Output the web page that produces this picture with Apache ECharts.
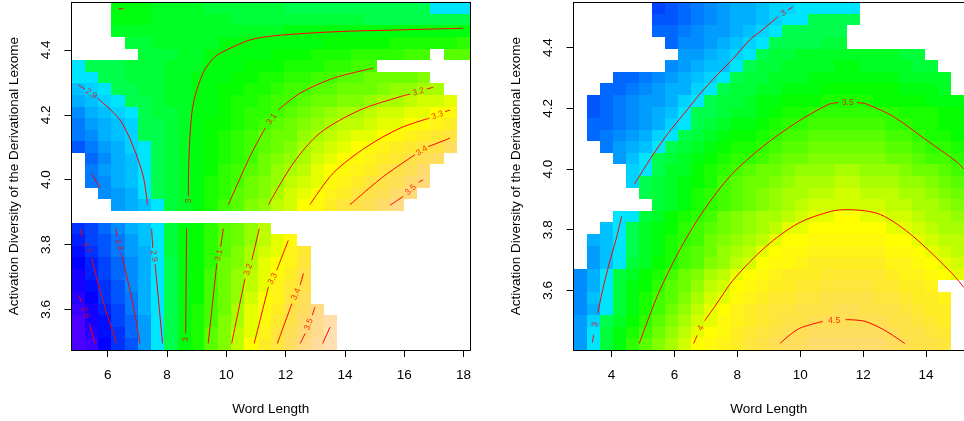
<!DOCTYPE html>
<html>
<head>
<meta charset="utf-8">
<script src="https://cdn.jsdelivr.net/npm/echarts@6/dist/echarts.min.js"></script>
<style>
  html, body { margin: 0; padding: 0; background: #fff; }
  #chart { width: 964px; height: 421px; }
</style>
</head>
<body>
<div id="chart"></div>
<script>
var _ = null;
var FONT = '"Liberation Sans", Arial, Helvetica, sans-serif';

// grid points of the two surfaces (word length / activation diversity)
var LEFT_X = [5.000, 5.448, 5.897, 6.345, 6.793, 7.241, 7.690, 8.138, 8.586, 9.034, 9.483, 9.931, 10.379, 10.828, 11.276,
  11.724, 12.172, 12.621, 13.069, 13.517, 13.966, 14.414, 14.862, 15.310, 15.759, 16.207, 16.655, 17.103, 17.552, 18.000];
var LEFT_Y = [3.493, 3.529, 3.564, 3.600, 3.636, 3.672, 3.707, 3.743, 3.779, 3.815, 3.850, 3.886, 3.922, 3.957, 3.993,
  4.029, 4.065, 4.100, 4.136, 4.172, 4.208, 4.243, 4.279, 4.315, 4.351, 4.386, 4.422, 4.458, 4.493, 4.529];
var RIGHT_X = [3.000, 3.414, 3.828, 4.241, 4.655, 5.069, 5.483, 5.897, 6.310, 6.724, 7.138, 7.552, 7.966, 8.379, 8.793,
  9.207, 9.621, 10.034, 10.448, 10.862, 11.276, 11.690, 12.103, 12.517, 12.931, 13.345, 13.759, 14.172, 14.586, 15.000];
var RIGHT_Y = [3.423, 3.461, 3.499, 3.538, 3.576, 3.614, 3.652, 3.690, 3.728, 3.767, 3.805, 3.843, 3.881, 3.919, 3.957,
  3.996, 4.034, 4.072, 4.110, 4.148, 4.186, 4.225, 4.263, 4.301, 4.339, 4.377, 4.415, 4.454, 4.492, 4.530];

var LEFT_XLIM = [4.776, 18.224], LEFT_YLIM = [3.475, 4.547], LEFT_ZLIM = [2.547, 3.625];
var RIGHT_XLIM = [2.793, 15.207], RIGHT_YLIM = [3.404, 4.549], RIGHT_ZLIM = [1.95, 5.0];

var X_TICKS_LEFT = [6, 8, 10, 12, 14, 16, 18];
var X_TICKS_RIGHT = [4, 6, 8, 10, 12, 14];
var Y_TICKS = [3.6, 3.8, 4.0, 4.2, 4.4];

// fitted values, one row per grid row from the bottom; first entry = index of first drawn column
var LEFT_ROWS = [
  [0, 2.53, 2.59, 2.65, 2.70, 2.76, 2.83, 2.92, 2.94, 3.00, 3.05, 3.11, 3.17, 3.23, 3.29, 3.35, 3.40, 3.46, 3.52, 3.58, 3.64],
  [0, 2.55, 2.60, 2.66, 2.71, 2.77, 2.84, 2.92, 2.94, 3.00, 3.05, 3.11, 3.16, 3.22, 3.28, 3.33, 3.39, 3.44, 3.50, 3.56, 3.61],
  [0, 2.56, 2.62, 2.67, 2.72, 2.78, 2.84, 2.92, 2.94, 3.00, 3.05, 3.10, 3.16, 3.21, 3.27, 3.32, 3.37, 3.43, 3.48, 3.54, 3.59],
  [0, 2.58, 2.63, 2.68, 2.73, 2.79, 2.85, 2.92, 2.94, 3.00, 3.05, 3.10, 3.15, 3.20, 3.26, 3.31, 3.36, 3.41, 3.46, 3.52],
  [0, 2.60, 2.65, 2.70, 2.75, 2.80, 2.85, 2.92, 2.95, 3.00, 3.04, 3.09, 3.14, 3.19, 3.24, 3.29, 3.34, 3.39, 3.44],
  [0, 2.62, 2.66, 2.71, 2.76, 2.81, 2.86, 2.92, 2.95, 3.00, 3.04, 3.09, 3.14, 3.19, 3.23, 3.28, 3.33, 3.38, 3.42],
  [0, 2.63, 2.68, 2.72, 2.77, 2.81, 2.86, 2.92, 2.95, 3.00, 3.04, 3.09, 3.13, 3.18, 3.22, 3.27, 3.32, 3.36, 3.41],
  [0, 2.65, 2.69, 2.74, 2.78, 2.82, 2.87, 2.92, 2.95, 3.00, 3.04, 3.08, 3.13, 3.17, 3.21, 3.26, 3.30, 3.34, 3.39],
  [0, 2.67, 2.71, 2.75, 2.79, 2.83, 2.87, 2.92, 2.96, 3.00, 3.04, 3.08, 3.12, 3.16, 3.20, 3.24, 3.28, 3.33, 3.37],
  [0, 2.68, 2.72, 2.76, 2.80, 2.84, 2.88, 2.92, 2.96, 3.00, 3.03, 3.07, 3.11, 3.15, 3.19, 3.23, 3.27, 3.31],
  [0, 2.70, 2.74, 2.77, 2.81, 2.85, 2.88, 2.92, 2.96, 3.00, 3.03, 3.07, 3.11, 3.15, 3.18, 3.22],
  [0],
  [3, 2.83, 2.86, 2.89, 2.92, 2.96, 2.99, 3.02, 3.06, 3.09, 3.12, 3.16, 3.19, 3.22, 3.25, 3.29, 3.32, 3.35, 3.39, 3.42, 3.45, 3.48, 3.52],
  [2, 2.81, 2.84, 2.87, 2.92, 2.94, 2.96, 2.99, 3.02, 3.05, 3.08, 3.11, 3.14, 3.17, 3.20, 3.24, 3.27, 3.30, 3.33, 3.36, 3.39, 3.42, 3.45, 3.48, 3.51],
  [1, 2.79, 2.82, 2.85, 2.88, 2.92, 2.94, 2.96, 2.99, 3.02, 3.05, 3.07, 3.10, 3.13, 3.16, 3.19, 3.22, 3.25, 3.28, 3.31, 3.33, 3.36, 3.39, 3.42, 3.45, 3.48, 3.51],
  [1, 2.80, 2.83, 2.86, 2.89, 2.92, 2.94, 2.96, 2.99, 3.02, 3.04, 3.07, 3.09, 3.12, 3.15, 3.18, 3.20, 3.23, 3.26, 3.29, 3.32, 3.34, 3.36, 3.39, 3.41, 3.45, 3.48],
  [1, 2.78, 2.81, 2.85, 2.89, 2.92, 2.94, 2.97, 2.99, 3.01, 3.04, 3.06, 3.08, 3.10, 3.13, 3.16, 3.19, 3.21, 3.24, 3.26, 3.29, 3.31, 3.33, 3.36, 3.38, 3.41, 3.44, 3.47],
  [0, 2.76, 2.79, 2.83, 2.86, 2.91, 2.92, 2.94, 2.97, 2.99, 3.01, 3.03, 3.05, 3.07, 3.09, 3.12, 3.14, 3.17, 3.20, 3.22, 3.24, 3.26, 3.29, 3.31, 3.33, 3.35, 3.37, 3.39, 3.42, 3.46],
  [0, 2.79, 2.82, 2.85, 2.88, 2.91, 2.94, 2.95, 2.97, 2.99, 3.01, 3.03, 3.05, 3.07, 3.09, 3.11, 3.13, 3.15, 3.18, 3.20, 3.22, 3.24, 3.26, 3.27, 3.29, 3.31, 3.33, 3.35, 3.37, 3.40],
  [0, 2.80, 2.83, 2.86, 2.89, 2.91, 2.94, 2.95, 2.97, 2.99, 3.01, 3.03, 3.04, 3.06, 3.08, 3.10, 3.12, 3.14, 3.16, 3.18, 3.20, 3.22, 3.23, 3.25, 3.27, 3.28, 3.30, 3.31, 3.34, 3.36],
  [0, 2.82, 2.85, 2.88, 2.91, 2.92, 2.94, 2.96, 2.97, 2.99, 3.01, 3.02, 3.04, 3.05, 3.07, 3.08, 3.10, 3.12, 3.14, 3.16, 3.18, 3.20, 3.21, 3.22, 3.24, 3.25, 3.27, 3.28, 3.29, 3.31],
  [0, 2.85, 2.88, 2.90, 2.92, 2.94, 2.95, 2.96, 2.98, 2.99, 3.00, 3.02, 3.03, 3.05, 3.06, 3.07, 3.09, 3.10, 3.11, 3.13, 3.14, 3.16, 3.17, 3.18, 3.20, 3.21, 3.23, 3.24, 3.25, 3.27],
  [0, 2.89, 2.91, 2.92, 2.94, 2.94, 2.96, 2.97, 2.98, 2.99, 3.00, 3.01, 3.03, 3.04, 3.05, 3.06, 3.07, 3.09, 3.10, 3.11, 3.12, 3.13, 3.14, 3.15, 3.16, 3.18, 3.19, 3.20, 3.21],
  [0, 2.92, 2.93, 2.94, 2.95, 2.96, 2.96, 2.97, 2.98, 2.99, 3.00, 3.01, 3.02, 3.03, 3.04, 3.05, 3.06, 3.07, 3.08, 3.09, 3.10, 3.11, 3.12, 3.13, 3.14, 3.14, 3.15, 3.16],
  [0, 2.93, 2.94, 2.95, 2.95, 2.96, 2.97, 2.97, 2.98, 2.99, 2.99, 3.00, 3.01, 3.02, 3.03, 3.03, 3.04, 3.05, 3.06, 3.06, 3.07, 3.08, 3.09, 3.09],
  [5, 2.96, 2.97, 2.97, 2.98, 2.99, 3.00, 3.00, 3.01, 3.02, 3.02, 3.03, 3.04, 3.04, 3.05, 3.05, 3.06, 3.07, 3.07, 3.08, 3.08, 3.09, 3.10, _, 3.11, 3.12],
  [4, 2.97, 2.97, 2.98, 2.98, 2.99, 2.99, 2.99, 3.00, 3.00, 3.00, 3.01, 3.01, 3.01, 3.02, 3.02, 3.03, 3.03, 3.03, 3.04, 3.04, 3.05, 3.05, 3.05, 3.06, 3.06, 3.07],
  [3, 2.98, 2.98, 2.98, 2.98, 2.98, 2.99, 2.99, 2.99, 2.99, 2.99, 2.99, 2.99, 2.99, 3.00, 3.00, 3.00, 3.00, 3.00, 3.00, 3.00, 3.00, 3.00, 3.00, 3.01, 3.01, 3.01, 3.01],
  [3, 3.00, 3.00, 3.00, 2.99, 2.99, 2.98, 2.98, 2.98, 2.98, 2.97, 2.97, 2.97, 2.97, 2.97, 2.96, 2.96, 2.96, 2.96, 2.96, 2.95, 2.95, 2.95, 2.95, 2.95, 2.94, 2.94, 2.94],
  [3, 3.00, 3.00, 3.00, 2.99, 2.99, 2.98, 2.98, 2.97, 2.97, 2.97, 2.96, 2.96, 2.96, 2.95, 2.95, 2.95, 2.95, 2.94, 2.94, 2.94, 2.94, 2.94, 2.94, 2.94, 2.93, 2.93, 2.93]
];

var RIGHT_ROWS = [
  [0, 2.76, 3.01, 3.15, 3.29, 3.43, 3.55, 3.67, 3.79, 3.91, 4.03, 4.10, 4.18, 4.25, 4.33, 4.40, 4.47, 4.52, 4.56, 4.59, 4.61, 4.62, 4.62, 4.61, 4.58, 4.54, 4.50, 4.45, 4.40, 4.34],
  [0, 2.76, 2.99, 3.12, 3.25, 3.38, 3.50, 3.62, 3.75, 3.87, 3.99, 4.06, 4.14, 4.21, 4.29, 4.36, 4.43, 4.48, 4.51, 4.54, 4.56, 4.57, 4.57, 4.56, 4.53, 4.49, 4.45, 4.40, 4.35, 4.29],
  [0, 2.76, 2.97, 3.10, 3.22, 3.34, 3.47, 3.58, 3.70, 3.82, 3.93, 4.02, 4.10, 4.17, 4.24, 4.30, 4.36, 4.41, 4.45, 4.48, 4.50, 4.51, 4.51, 4.50, 4.47, 4.44, 4.40, 4.35, 4.30, 4.25],
  [0, 2.73, 2.85, 3.00, 3.13, 3.26, 3.39, 3.52, 3.63, 3.74, 3.86, 3.97, 4.07, 4.15, 4.22, 4.28, 4.33, 4.37, 4.41, 4.43, 4.45, 4.46, 4.46, 4.45, 4.43, 4.40, 4.36, 4.31, 4.26, 4.21],
  [0, 2.74, 2.87, 3.04, 3.15, 3.26, 3.37, 3.48, 3.59, 3.69, 3.80, 3.91, 4.01, 4.09, 4.16, 4.22, 4.27, 4.31, 4.35, 4.37, 4.39, 4.40, 4.40, 4.39, 4.37, 4.34, 4.30, 4.26, 4.21, 4.16],
  [0, 2.73, 2.85, 3.02, 3.13, 3.24, 3.35, 3.45, 3.54, 3.65, 3.75, 3.85, 3.95, 4.04, 4.11, 4.17, 4.22, 4.26, 4.30, 4.32, 4.34, 4.35, 4.35, 4.34, 4.32, 4.29, 4.25, 4.21, 4.16],
  [0, 2.73, 2.84, 3.00, 3.11, 3.21, 3.31, 3.41, 3.50, 3.60, 3.70, 3.79, 3.89, 3.98, 4.06, 4.12, 4.17, 4.21, 4.24, 4.26, 4.28, 4.30, 4.30, 4.29, 4.27, 4.24, 4.20, 4.15, 4.10, 4.05, 4.00],
  [1, 2.79, 2.90, 3.02, 3.11, 3.21, 3.31, 3.40, 3.50, 3.59, 3.68, 3.77, 3.86, 3.96, 4.03, 4.09, 4.14, 4.18, 4.21, 4.23, 4.25, 4.25, 4.24, 4.22, 4.19, 4.15, 4.10, 4.05, 4.00, 3.95],
  [1, 2.80, 2.91, 3.01, 3.10, 3.19, 3.29, 3.38, 3.48, 3.57, 3.65, 3.73, 3.82, 3.90, 3.98, 4.05, 4.10, 4.14, 4.17, 4.19, 4.20, 4.20, 4.19, 4.17, 4.13, 4.09, 4.04, 4.00, 3.95, 3.90],
  [1, 2.84, 2.92, 3.01, 3.09, 3.18, 3.27, 3.36, 3.45, 3.53, 3.60, 3.68, 3.75, 3.83, 3.90, 3.98, 4.04, 4.08, 4.11, 4.13, 4.14, 4.14, 4.13, 4.10, 4.08, 4.04, 4.00, 3.95, 3.90, 3.85],
  [2, 2.92, 3.01, 3.09, 3.17, 3.26, 3.35, 3.43, 3.51, 3.58, 3.64, 3.71, 3.77, 3.84, 3.90, 3.97, 4.01, 4.04, 4.06, 4.08, 4.08, 4.06, 4.04, 4.01, 3.97, 3.93, 3.88, 3.83, 3.78],
  [3, 3.00, 3.04, 3.13, 3.22, 3.30, 3.38, 3.46, 3.53, 3.60, 3.66, 3.72, 3.78, 3.84, 3.89, 3.94, 3.98, 4.01, 4.03, 4.03, 4.02, 3.99, 3.95, 3.91, 3.87, 3.82, 3.78, 3.73],
  [6, 3.13, 3.20, 3.28, 3.36, 3.44, 3.51, 3.58, 3.65, 3.71, 3.77, 3.82, 3.87, 3.91, 3.94, 3.96, 3.96, 3.95, 3.93, 3.90, 3.86, 3.82, 3.78, 3.74, 3.69],
  [5, 3.08, 3.15, 3.22, 3.29, 3.36, 3.44, 3.51, 3.57, 3.63, 3.69, 3.74, 3.79, 3.83, 3.87, 3.89, 3.91, 3.91, 3.90, 3.88, 3.85, 3.82, 3.78, 3.74, 3.69, 3.65],
  [4, 2.98, 3.06, 3.13, 3.20, 3.27, 3.34, 3.41, 3.48, 3.54, 3.60, 3.65, 3.70, 3.75, 3.79, 3.82, 3.84, 3.85, 3.85, 3.84, 3.82, 3.79, 3.76, 3.72, 3.68, 3.63, 3.59],
  [4, 2.93, 3.03, 3.10, 3.17, 3.23, 3.30, 3.36, 3.43, 3.49, 3.54, 3.60, 3.64, 3.68, 3.72, 3.75, 3.77, 3.78, 3.78, 3.77, 3.75, 3.72, 3.69, 3.65, 3.61, 3.57, 3.53],
  [3, 2.78, 2.87, 2.99, 3.06, 3.12, 3.18, 3.24, 3.30, 3.36, 3.42, 3.47, 3.52, 3.56, 3.60, 3.64, 3.67, 3.69, 3.70, 3.70, 3.69, 3.67, 3.64, 3.61, 3.57, 3.53, 3.50, 3.47],
  [2, 2.68, 2.76, 2.82, 2.91, 3.02, 3.08, 3.14, 3.19, 3.25, 3.30, 3.36, 3.41, 3.46, 3.50, 3.54, 3.57, 3.60, 3.62, 3.63, 3.63, 3.62, 3.60, 3.57, 3.54, 3.50, 3.47, 3.44, 3.41],
  [1, 2.58, 2.64, 2.72, 2.78, 2.84, 2.93, 3.03, 3.09, 3.14, 3.20, 3.25, 3.30, 3.35, 3.40, 3.44, 3.48, 3.51, 3.54, 3.56, 3.57, 3.57, 3.56, 3.54, 3.51, 3.48, 3.45, 3.41, 3.38, 3.35],
  [1, 2.56, 2.62, 2.68, 2.73, 2.78, 2.84, 2.95, 3.03, 3.09, 3.14, 3.19, 3.24, 3.29, 3.34, 3.39, 3.43, 3.46, 3.49, 3.50, 3.51, 3.51, 3.50, 3.48, 3.46, 3.43, 3.40, 3.37, 3.34, 3.31],
  [1, 2.55, 2.60, 2.67, 2.73, 2.78, 2.83, 2.89, 3.00, 3.05, 3.09, 3.14, 3.19, 3.23, 3.28, 3.32, 3.36, 3.40, 3.43, 3.45, 3.46, 3.46, 3.45, 3.44, 3.42, 3.40, 3.38, 3.36, 3.33, 3.30],
  [1, 2.53, 2.58, 2.64, 2.70, 2.75, 2.80, 2.85, 2.93, 3.02, 3.07, 3.11, 3.16, 3.20, 3.24, 3.27, 3.30, 3.32, 3.34, 3.36, 3.37, 3.37, 3.36, 3.35, 3.34, 3.32, 3.30, 3.28, 3.26, 3.24],
  [2, 2.56, 2.59, 2.65, 2.71, 2.76, 2.81, 2.86, 2.94, 3.02, 3.07, 3.11, 3.15, 3.19, 3.22, 3.25, 3.27, 3.29, 3.31, 3.32, 3.32, 3.32, 3.31, 3.30, 3.28, 3.26, 3.24, 3.22],
  [3, 2.56, 2.62, 2.68, 2.73, 2.78, 2.83, 2.88, 2.94, 3.02, 3.08, 3.12, 3.16, 3.19, 3.21, 3.23, 3.25, 3.26, 3.27, 3.27, 3.27, 3.26, 3.25, 3.23, 3.21, 3.19, 3.17],
  [7, 2.73, 2.76, 2.81, 2.87, 2.92, 3.01, 3.08, 3.12, 3.16, 3.18, 3.20, 3.22, 3.23, 3.24, 3.24, 3.23, 3.22, 3.21, 3.19, 3.16, 3.13],
  [8, 2.76, 2.79, 2.84, 2.89, 2.94, 3.01, 3.10, 3.13, 3.15, 3.17, 3.19, 3.20, 3.21, 3.21, 3.20, 3.19, 3.17, 3.15, 3.12],
  [7, 2.62, 2.69, 2.74, 2.78, 2.83, 2.88, 2.95, 3.01, 3.05, 3.07, 3.09, 3.10, 3.11, 3.11],
  [6, 2.56, 2.61, 2.67, 2.72, 2.75, 2.80, 2.85, 2.90, 2.96, 3.01, 3.05, 3.07, 3.08, 3.08, 3.09],
  [6, 2.50, 2.55, 2.61, 2.67, 2.71, 2.77, 2.81, 2.86, 2.91, 2.97, 3.01, 3.03, 3.05, 3.06, 3.06, 3.07],
  [6, 2.48, 2.52, 2.60, 2.66, 2.72, 2.77, 2.82, 2.86, 2.89, 2.93, 2.97, 3.01, 3.02, 3.02, 3.03, 3.03]
];

// contour lines, split where R leaves room for the level label
var LEFT_CONTOURS = [
  [[5.01, 3.644], [5.12, 3.622]], [[5.38, 3.557], [5.57, 3.495]],
  [[5.07, 3.849], [5.14, 3.823]], [[5.46, 3.757], [5.85, 3.623], [6.30, 3.495]],
  [[6.27, 3.849], [6.32, 3.823]], [[6.45, 3.775], [6.81, 3.634], [7.09, 3.495]],
  [[7.48, 3.849], [7.52, 3.790]], [[7.60, 3.740], [7.85, 3.495]],
  [[8.66, 3.849], [8.63, 3.525]],
  [[9.90, 3.849], [9.81, 3.793]], [[9.68, 3.742], [9.39, 3.495]],
  [[11.11, 3.849], [10.86, 3.752]], [[10.63, 3.695], [10.18, 3.495]],
  [[12.09, 3.813], [11.70, 3.721]], [[11.42, 3.670], [10.94, 3.495]],
  [[12.60, 3.711], [12.49, 3.675]], [[12.21, 3.618], [11.72, 3.495]],
  [[12.99, 3.608], [12.90, 3.582]], [[12.66, 3.526], [12.49, 3.495]],
  [[13.50, 3.546], [13.25, 3.495]],
  [[5.01, 4.292], [5.23, 4.279]], [[5.66, 4.251], [6.41, 4.185], [6.86, 4.102], [7.20, 4.010], [7.34, 3.923]],
  [[5.46, 4.018], [5.74, 3.974]],
  [[6.36, 4.526], [6.53, 4.528]],
  [[8.72, 3.949], [8.73, 4.040], [8.78, 4.144], [8.86, 4.220], [9.00, 4.275], [9.25, 4.335], [9.60, 4.378], [10.01, 4.400],
    [10.80, 4.431], [11.64, 4.444], [13.61, 4.456], [15.86, 4.462], [17.99, 4.467]],
  [[10.07, 3.923], [10.80, 4.072], [11.31, 4.159]], [[11.75, 4.215], [12.49, 4.267], [13.61, 4.313], [14.96, 4.344]],
  [[11.42, 3.923], [12.26, 4.051], [13.16, 4.144], [14.51, 4.215], [15.86, 4.256], [16.20, 4.264]], [[16.76, 4.280], [16.98, 4.285]],
  [[12.82, 3.923], [13.61, 4.021], [14.74, 4.102], [15.86, 4.159], [16.85, 4.190]], [[17.38, 4.210], [17.54, 4.215]],
  [[14.17, 3.923], [15.30, 4.010], [16.36, 4.077]], [[16.81, 4.102], [17.54, 4.128]],
  [[15.52, 3.921], [15.97, 3.949]], [[16.48, 3.992], [16.64, 4.000]]
];
var LEFT_LABELS = [
  ['2.6', 5.25, 3.590, -70], ['2.7', 5.30, 3.790, -66], ['2.8', 6.38, 3.799, -76], ['2.9', 7.56, 3.765, -82],
  ['3', 8.63, 3.507, 89], ['3.1', 9.75, 3.767, 77], ['3.2', 10.74, 3.723, 70], ['3.3', 11.56, 3.695, 63],
  ['3.4', 12.35, 3.647, 66], ['3.5', 12.78, 3.554, 69],
  ['2.9', 5.44, 4.265, -35], ['3', 8.72, 3.935, 90], ['3.1', 11.53, 4.187, 54], ['3.2', 16.48, 4.271, 17],
  ['3.3', 17.12, 4.199, 22], ['3.4', 16.59, 4.089, 31], ['3.5', 16.22, 3.969, 43]
];

var RIGHT_CONTOURS = [
  [[4.73, 3.951], [5.28, 4.041], [5.80, 4.118], [6.32, 4.184], [6.83, 4.250], [7.36, 4.310], [7.88, 4.365], [8.39, 4.425],
    [8.73, 4.453], [9.30, 4.502]], [[9.61, 4.524], [9.76, 4.533]],
  [[4.32, 3.844], [4.14, 3.767], [3.93, 3.691], [3.72, 3.603], [3.56, 3.526]], [[3.43, 3.454], [3.39, 3.428]],
  [[4.88, 3.425], [5.49, 3.590], [6.21, 3.742], [6.94, 3.865], [7.80, 3.980], [8.81, 4.074], [9.85, 4.151], [10.88, 4.212],
    [11.22, 4.219]], [[11.80, 4.219], [12.10, 4.214], [12.96, 4.173], [14.00, 4.096], [14.96, 4.025], [15.20, 4.000]],
  [[6.61, 3.425], [6.72, 3.452]], [[6.96, 3.500], [7.30, 3.550], [7.88, 3.636], [8.91, 3.745], [9.95, 3.822], [10.99, 3.861],
    [11.51, 3.866], [12.55, 3.850], [13.59, 3.778], [14.83, 3.656], [15.20, 3.610]],
  [[9.35, 3.425], [9.95, 3.474], [10.72, 3.498]], [[11.44, 3.504], [12.03, 3.499], [12.65, 3.471], [13.33, 3.425]]
];
var RIGHT_LABELS = [
  ['3', 9.47, 4.512, 34], ['3', 3.48, 3.488, 79], ['3.5', 11.51, 4.220, 0], ['4', 6.84, 3.476, 62], ['4.5', 11.08, 3.502, 0]
];

// R's topo.colors(50)
function hsv(h, s, v) {
  var i = Math.floor(h * 6), f = h * 6 - i;
  var p = v * (1 - s), q = v * (1 - f * s), t = v * (1 - (1 - f) * s), r, g, b;
  switch (i % 6) {
    case 0: r = v; g = t; b = p; break;
    case 1: r = q; g = v; b = p; break;
    case 2: r = p; g = v; b = t; break;
    case 3: r = p; g = q; b = v; break;
    case 4: r = t; g = p; b = v; break;
    default: r = v; g = p; b = q;
  }
  return 'rgb(' + Math.round(r * 255) + ',' + Math.round(g * 255) + ',' + Math.round(b * 255) + ')';
}
function topoColors(n) {
  var j = Math.floor(n / 3), k = j, i = n - j - k, out = [], m;
  for (m = 0; m < i; m++) out.push(hsv((43 - 12 * m / (i - 1)) / 60, 1, 1));
  for (m = 0; m < j; m++) out.push(hsv((23 - 12 * m / (j - 1)) / 60, 1, 1));
  for (m = 0; m < k; m++) out.push(hsv((10 - 4 * m / (k - 1)) / 60, 1 - 0.7 * m / (k - 1), 1));
  return out;
}
var PAL = topoColors(50);

function edges(pts, lim) {
  var e = [lim[0]];
  for (var i = 1; i < pts.length; i++) e.push((pts[i - 1] + pts[i]) / 2);
  e.push(lim[1]);
  return e;
}

function cellSeries(idx, xs, ys, xlim, ylim, rows, zlim) {
  var xe = edges(xs, xlim), ye = edges(ys, ylim), data = [];
  rows.forEach(function (row, r) {
    for (var k = 1; k < row.length; k++) {
      var j = row[0] + k - 1;
      if (row[k] !== null) data.push([xs[j], ys[r], row[k], j, r]);
    }
  });
  return {
    type: 'custom', xAxisIndex: idx, yAxisIndex: idx, silent: true, clip: true, z: 1,
    data: data,
    renderItem: function (params, api) {
      var j = api.value(3), r = api.value(4), v = api.value(2);
      var a = api.coord([xe[j], ye[r + 1]]), b = api.coord([xe[j + 1], ye[r]]);
      var x0 = Math.round(a[0]), y0 = Math.round(a[1]), x1 = Math.round(b[0]), y1 = Math.round(b[1]);
      var c = Math.floor((v - zlim[0]) / (zlim[1] - zlim[0]) * PAL.length);
      c = Math.max(0, Math.min(PAL.length - 1, c));
      return { type: 'rect', shape: { x: x0, y: y0, width: x1 - x0, height: y1 - y0 }, style: { fill: PAL[c] } };
    }
  };
}

function contourSeries(idx, segs) {
  return segs.map(function (seg) {
    return {
      type: 'line', xAxisIndex: idx, yAxisIndex: idx, data: seg, smooth: 0.3, symbol: 'none',
      silent: true, z: 3, lineStyle: { color: '#ff0000', width: 1 }
    };
  });
}

function labelSeries(idx, labels) {
  return {
    type: 'scatter', xAxisIndex: idx, yAxisIndex: idx, symbolSize: 0, silent: true, z: 4,
    data: labels.map(function (l) {
      return {
        value: [l[1], l[2]],
        label: { show: true, position: 'inside', formatter: l[0], rotate: l[3], color: '#ff0000', fontSize: 8.5, fontFamily: FONT }
      };
    })
  };
}

var lineStyle = { color: '#000', width: 1 };
function bottomAxis(grid, lim, ticks) {
  return {
    type: 'value', gridIndex: grid, position: 'bottom', min: lim[0], max: lim[1], z: 10,
    name: 'Word Length', nameLocation: 'middle', nameGap: 52,
    nameTextStyle: { fontFamily: FONT, fontSize: 13.5, color: '#000' },
    axisLine: { show: true, onZero: false, lineStyle: lineStyle },
    axisTick: { show: true, length: 7, customValues: ticks, lineStyle: lineStyle },
    axisLabel: { show: true, customValues: ticks, margin: 18, fontFamily: FONT, fontSize: 13.5, color: '#000' },
    splitLine: { show: false }
  };
}
function leftAxis(grid, lim) {
  return {
    type: 'value', gridIndex: grid, position: 'left', min: lim[0], max: lim[1], z: 10,
    name: 'Activation Diversity of the Derivational Lexome', nameLocation: 'middle', nameGap: 50, nameRotate: 90,
    nameTextStyle: { fontFamily: FONT, fontSize: 13.5, color: '#000' },
    axisLine: { show: true, onZero: false, lineStyle: lineStyle },
    axisTick: { show: true, length: 7, customValues: Y_TICKS, lineStyle: lineStyle },
    axisLabel: {
      show: true, customValues: Y_TICKS, rotate: 90, margin: 18, fontFamily: FONT, fontSize: 13.5, color: '#000',
      formatter: function (v) { return v.toFixed(1); }
    },
    splitLine: { show: false }
  };
}
function frameAxis(type, grid, pos, lim) {
  return {
    type: 'value', gridIndex: grid, position: pos, min: lim[0], max: lim[1], z: 10,
    axisLine: { show: true, onZero: false, lineStyle: lineStyle },
    axisTick: { show: false }, axisLabel: { show: false }, splitLine: { show: false }
  };
}

var chart = echarts.init(document.getElementById('chart'));
chart.setOption({
  animation: false,
  backgroundColor: '#fff',
  grid: [
    { left: 71.4, top: 2.3, width: 398.8, height: 348.3 },
    { left: 573.6, top: 2.3, width: 398.5, height: 348.3 }
  ],
  xAxis: [
    bottomAxis(0, LEFT_XLIM, X_TICKS_LEFT),
    bottomAxis(1, RIGHT_XLIM, X_TICKS_RIGHT),
    frameAxis('x', 0, 'top', LEFT_XLIM),
    frameAxis('x', 1, 'top', RIGHT_XLIM)
  ],
  yAxis: [
    leftAxis(0, LEFT_YLIM),
    leftAxis(1, RIGHT_YLIM),
    frameAxis('y', 0, 'right', LEFT_YLIM),
    frameAxis('y', 1, 'right', RIGHT_YLIM)
  ],
  series: [
    cellSeries(0, LEFT_X, LEFT_Y, LEFT_XLIM, LEFT_YLIM, LEFT_ROWS, LEFT_ZLIM),
    cellSeries(1, RIGHT_X, RIGHT_Y, RIGHT_XLIM, RIGHT_YLIM, RIGHT_ROWS, RIGHT_ZLIM)
  ].concat(
    contourSeries(0, LEFT_CONTOURS),
    contourSeries(1, RIGHT_CONTOURS),
    [labelSeries(0, LEFT_LABELS), labelSeries(1, RIGHT_LABELS)]
  )
});
</script>
</body>
</html>
